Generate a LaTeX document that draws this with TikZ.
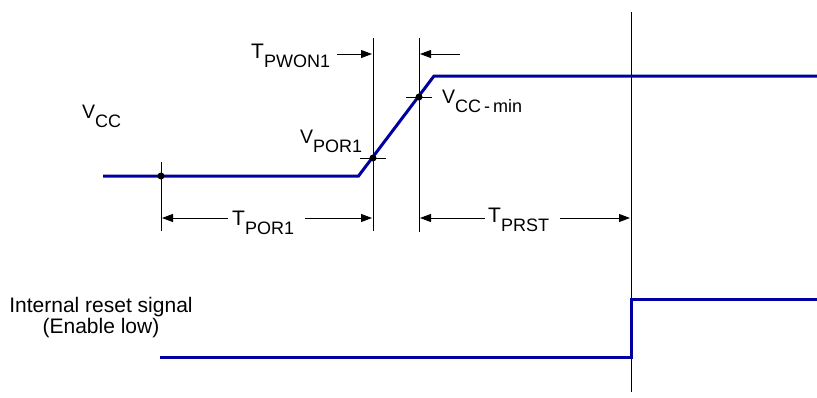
\documentclass[tikz,border=0pt]{standalone}
\usepackage{fontspec}
\setmainfont{Liberation Sans}
\usetikzlibrary{arrows.meta}
\definecolor{sigblue}{RGB}{0,0,160}
\newcommand\lbl[2]{#1\raisebox{-9.5pt}{\fontsize{18}{18}\selectfont #2}}
\begin{document}
\begin{tikzpicture}[x=1pt,y=-1pt,
  signal/.style={draw=sigblue,line width=3pt,line join=miter},
  guide/.style={draw=black,line width=0.9pt},
  dim/.style={draw=black,line width=0.9pt,-{Triangle[length=11pt,width=8pt]}},
  dotmark/.style={circle,fill=black,inner sep=0pt,minimum size=7pt},
  txt/.style={inner sep=0pt,anchor=base west,font=\fontsize{21}{21}\selectfont},
  vtxt/.style={inner sep=0pt,anchor=base west,font=\fontsize{19.5}{19.5}\selectfont}]
\useasboundingbox (0,0) rectangle (817,397);
% coordinates
\coordinate (v0) at (103,176);
\coordinate (v1) at (358.5,176);
\coordinate (v2) at (434,76);
\coordinate (v3) at (817,76);
\coordinate (r0) at (160,357);
\coordinate (r1) at (631,357);
\coordinate (r2) at (631,299);
\coordinate (r3) at (817,299);
% guide lines
\coordinate (g1t) at (161,162); \coordinate (g1b) at (161,231);
\coordinate (g2t) at (373,38);  \coordinate (g2b) at (373,231);
\coordinate (g3t) at (419,38);  \coordinate (g3b) at (419,232);
\coordinate (g4t) at (631,12);  \coordinate (g4b) at (631,392);
\draw[guide] (g1t) -- (g1b);
\draw[guide] (g2t) -- (g2b);
\draw[guide] (g3t) -- (g3b);
\draw[guide] (g4t) -- (g4b);
% signals
\draw[signal] (v0) -- (v1) -- (v2) -- (v3);
\draw[signal] (r0) -- (r1) -- (r2) -- (r3);
% cross ticks
\coordinate (c1l) at (360,158); \coordinate (c1r) at (386,158);
\coordinate (c2l) at (406,97);  \coordinate (c2r) at (432,97);
\draw[guide] (c1l) -- (c1r);
\draw[guide] (c2l) -- (c2r);
% dots
\node[dotmark] (d0) at (161,176) {};
\node[dotmark] (d1) at (373,158) {};
\node[dotmark] (d2) at (419,97) {};
% labels
\node[vtxt] (lvcc) at (82,118) {\lbl{V}{CC}};
\node[vtxt] (lvpor) at (300,143) {\lbl{V}{POR1}};
\node[vtxt] (lvmin) at (442,103) {\lbl{V}{CC\,-\,min}};
\node[txt] (ltpwon) at (251,58) {\lbl{T}{PWON1}};
\node[txt] (ltpor) at (232,225) {\lbl{T}{POR1}};
\node[txt] (ltprst) at (488,222) {\lbl{T}{PRST}};
\node[txt,anchor=base] (lint) at (101,312) {Internal reset signal};
\node[txt,anchor=base] (len) at (101,333) {(Enable low)};
% dimension arrows
\coordinate (a1s) at (337,54); \coordinate (a1e) at (372,54);
\coordinate (a2s) at (460,54); \coordinate (a2e) at (420,54);
\draw[dim] (a1s) -- (a1e);
\draw[dim] (a2s) -- (a2e);
\coordinate (b1s) at (228,218); \coordinate (b1e) at (162,218);
\coordinate (b2s) at (305,218); \coordinate (b2e) at (372,218);
\draw[dim] (b1s) -- (b1e);
\draw[dim] (b2s) -- (b2e);
\coordinate (p1s) at (485,218); \coordinate (p1e) at (420,218);
\coordinate (p2s) at (560,218); \coordinate (p2e) at (630,218);
\draw[dim] (p1s) -- (p1e);
\draw[dim] (p2s) -- (p2e);
\end{tikzpicture}
\end{document}
